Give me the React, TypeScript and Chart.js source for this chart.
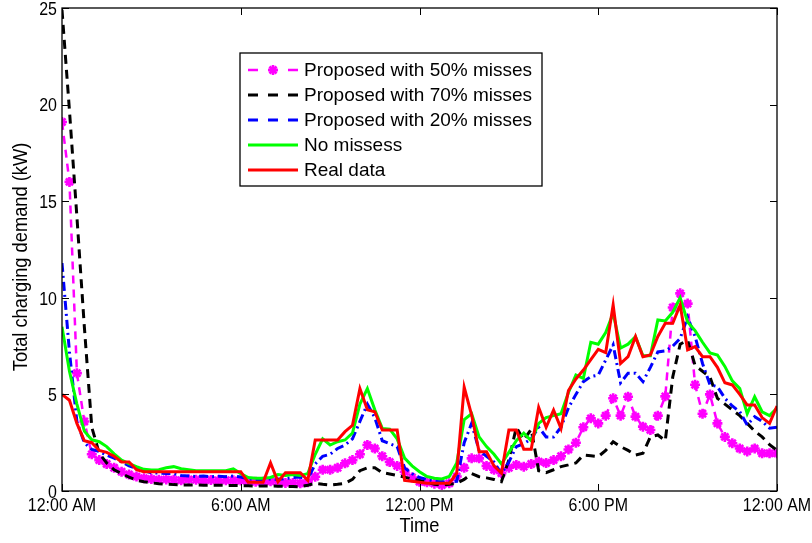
import React, { useEffect, useRef } from "react";
import { Chart, registerables } from "chart.js";

Chart.register(...registerables);

// Samples every 15 minutes, from 12:00 AM to 12:00 AM next day (97 points)
const STEP_HOURS = 0.25;

const xTickLabels = ["12:00 AM", "6:00 AM", "12:00 PM", "6:00 PM", "12:00 AM"];
const yTickValues = [0, 5, 10, 15, 20, 25];
const xTitle = "Time";
const yTitle = "Total charging demand (kW)";

const seriesLabels = [
  "Proposed with 50% misses",
  "Proposed with 70% misses",
  "Proposed with 20% misses",
  "No missess",
  "Real data",
];

const proposed50 = [
  19.1, 16.0, 6.1, 3.6, 1.9, 1.6, 1.4, 1.2, 1.0, 0.85, 0.75, 0.66, 0.62,
  0.58, 0.6, 0.58, 0.56, 0.6, 0.58, 0.55, 0.57, 0.55, 0.56, 0.55, 0.54,
  0.5, 0.48, 0.48, 0.5, 0.45, 0.42, 0.42, 0.4, 0.45,
  0.74, 1.1, 1.1, 1.2, 1.43, 1.6, 1.9, 2.38, 2.2, 1.8, 1.5, 1.3, 1.0, 0.7,
  0.48, 0.45, 0.38, 0.31, 0.4, 0.75, 1.2, 1.69, 1.69, 1.3, 1.1, 0.92,
  1.2, 1.35, 1.26, 1.4, 1.52, 1.45, 1.6, 1.8, 2.15, 2.5, 3.3, 3.76, 3.5,
  3.9, 4.8, 3.9, 4.88, 3.85, 3.33, 3.16, 3.9, 4.9, 9.5, 10.23, 9.7, 5.5,
  4.0, 5.0, 3.5, 2.8, 2.47, 2.2, 2.05, 2.2, 1.95, 1.95, 1.95,
];

const proposed70 = [
  24.9, 19.7, 14.2, 8.5, 3.3, 1.95, 1.45, 1.1, 0.9, 0.72, 0.55, 0.48, 0.42,
  0.38, 0.35, 0.33, 0.32, 0.31, 0.31, 0.3, 0.3, 0.3, 0.29, 0.29, 0.28,
  0.27, 0.26, 0.26, 0.26, 0.25, 0.24, 0.23, 0.22, 0.3,
  0.4, 0.35, 0.31, 0.35, 0.4, 0.6, 1.05, 1.2, 1.2, 0.95, 0.88, 0.8, 0.72,
  0.62, 0.55, 0.45, 0.35, 0.31, 0.35, 0.4, 0.6, 0.9, 0.74, 0.68, 0.6, 0.48,
  1.6, 3.3, 2.64, 3.2, 1.05, 0.95, 1.1, 1.26, 1.35, 1.45, 1.86, 1.82, 1.78,
  2.1, 2.55, 2.3, 2.1, 1.86, 1.95, 2.81, 2.9, 2.6, 5.9, 7.6, 7.8, 6.5,
  6.2, 5.9, 4.8, 4.5, 4.2, 3.9, 3.5, 3.1, 2.8, 2.4, 2.1,
];

const proposed20 = [
  11.8, 7.2, 3.6, 2.5, 2.15, 2.05, 1.85, 1.7, 1.5, 1.3, 1.17, 1.05, 0.95,
  0.92, 0.9, 0.9, 0.8, 0.78, 0.75, 0.78, 0.74, 0.76, 0.74, 0.78, 0.72,
  0.62, 0.6, 0.6, 0.62, 0.6, 0.65, 0.7, 0.72, 0.6,
  1.4, 1.8, 1.9, 2.2, 2.38, 2.7, 3.6, 4.5, 3.8, 2.6, 2.45, 2.3, 1.2, 0.9,
  0.7, 0.6, 0.5, 0.48, 0.48, 0.5, 2.5, 3.5, 2.1, 1.8, 1.5, 0.9,
  1.5, 2.3, 2.45, 2.7, 3.3, 2.8, 2.8, 3.3, 4.3, 5.0, 5.66, 5.92, 6.0,
  6.78, 7.56, 5.6, 6.1, 6.1, 5.66, 6.4, 7.2, 7.25, 7.5, 7.9, 9.0, 8.0,
  6.6, 5.5, 5.4, 4.8, 4.4, 4.1, 3.42, 3.85, 3.6, 3.25, 3.3,
];

const noMisses = [
  8.5, 6.2, 4.5, 3.1, 2.65, 2.55, 2.3, 1.92, 1.6, 1.42, 1.26, 1.12, 1.09,
  1.1, 1.2, 1.26, 1.15, 1.1, 1.05, 1.05, 1.05, 1.05, 1.05, 1.15, 0.9,
  0.7, 0.66, 0.66, 0.7, 0.85, 0.8, 0.85, 0.8, 0.9,
  1.9, 2.7, 2.38, 2.55, 2.64, 3.0, 4.5, 5.3, 4.2, 3.24, 3.2, 2.7, 1.7, 1.3,
  1.0, 0.75, 0.66, 0.62, 0.75, 1.45, 3.7, 4.0, 2.8, 2.3, 1.9, 1.4,
  2.0, 2.6, 3.0, 2.6, 3.5, 3.8, 3.9, 4.0, 5.1, 6.0, 5.83, 7.7, 7.6,
  8.2, 9.2, 7.4, 7.6, 7.99, 7.0, 7.0, 8.85, 8.8, 9.25, 10.0, 8.75, 8.3,
  7.7, 7.15, 7.04, 6.45, 5.7, 5.3, 4.0, 4.88, 4.1, 3.9, 4.3,
];

const realData = [
  5.0, 4.7, 3.5, 2.6, 2.5, 2.1, 2.0, 1.8, 1.5, 1.5, 1.1, 1.0, 1.0,
  1.0, 1.0, 1.0, 1.0, 1.0, 1.0, 1.0, 1.0, 1.0, 1.0, 1.0, 1.0,
  0.45, 0.45, 0.45, 1.45, 0.48, 0.95, 0.95, 0.95, 0.55,
  2.64, 2.64, 2.64, 2.64, 3.07, 3.4, 5.3, 4.2, 4.1, 3.16, 3.16, 3.16, 0.55, 0.5,
  0.45, 0.4, 0.4, 0.4, 0.4, 0.92, 5.37, 3.93, 2.03, 2.03, 1.3, 0.92,
  3.16, 3.16, 2.16, 2.16, 4.33, 3.3, 4.19, 3.24, 5.2, 5.8, 6.26, 6.8, 7.33,
  7.16, 9.63, 6.6, 6.95, 7.99, 6.95, 7.04, 8.0, 8.68, 8.68, 9.63, 7.3, 7.47,
  6.95, 6.95, 6.4, 5.6, 5.49, 5.0, 4.45, 4.45, 3.8, 3.5, 4.4,
];

const SANS = "'Liberation Sans', Arial, Helvetica, sans-serif";

const toPoints = (vals: number[]) => vals.map((v, i) => ({ x: i * STEP_HOURS, y: v }));

function condensedText(
  ctx: CanvasRenderingContext2D,
  text: string,
  x: number,
  y: number,
  sx: number,
  align: CanvasTextAlign,
  rotate = 0
) {
  ctx.save();
  ctx.translate(x, y);
  if (rotate) ctx.rotate(rotate);
  ctx.scale(sx, 1);
  ctx.textAlign = align;
  ctx.textBaseline = "alphabetic";
  ctx.fillText(text, 0, 0);
  ctx.restore();
}

const frameAndLegend = {
  id: "frameAndLegend",
  afterDraw(chart: any) {
    const { ctx, chartArea: a, scales } = chart;
    ctx.save();
    ctx.strokeStyle = "#000";
    ctx.lineWidth = 1.3;
    ctx.setLineDash([]);
    ctx.strokeRect(a.left, a.top, a.right - a.left, a.bottom - a.top);
    const tl = 7;
    ctx.lineWidth = 1;
    ctx.beginPath();
    for (const t of scales.x.ticks) {
      const px = Math.round(scales.x.getPixelForValue(t.value)) + 0.5;
      ctx.moveTo(px, a.bottom);
      ctx.lineTo(px, a.bottom - tl);
      ctx.moveTo(px, a.top);
      ctx.lineTo(px, a.top + tl);
    }
    for (const t of scales.y.ticks) {
      const py = Math.round(scales.y.getPixelForValue(t.value)) + 0.5;
      ctx.moveTo(a.left, py);
      ctx.lineTo(a.left + tl, py);
      ctx.moveTo(a.right, py);
      ctx.lineTo(a.right - tl, py);
    }
    ctx.stroke();

    // tick labels and axis titles (MATLAB-like condensed Helvetica look)
    ctx.fillStyle = "#000";
    ctx.font = `19px ${SANS}`;
    scales.x.ticks.forEach((t: any, i: number) => {
      const px = scales.x.getPixelForValue(t.value);
      condensedText(ctx, xTickLabels[i], px, a.bottom + 20, 0.84, "center");
    });
    scales.y.ticks.forEach((t: any) => {
      const py = scales.y.getPixelForValue(t.value);
      condensedText(ctx, String(t.value), a.left - 5, py + 6.8, 0.84, "right");
    });
    ctx.font = `21px ${SANS}`;
    condensedText(ctx, xTitle, (a.left + a.right) / 2, 532, 0.87, "center");
    condensedText(ctx, yTitle, 27, 257, 0.87, "center", -Math.PI / 2);

    // legend box
    const bx = 240, by = 53, bw = 302, bh = 133;
    ctx.fillStyle = "#fff";
    ctx.fillRect(bx, by, bw, bh);
    ctx.lineWidth = 1.3;
    ctx.strokeRect(bx, by, bw, bh);
    const rowH = 25;
    const firstRow = 70;
    ctx.font = `19px ${SANS}`;
    ctx.textBaseline = "middle";
    ctx.textAlign = "left";
    chart.data.datasets.forEach((ds: any, i: number) => {
      const y = firstRow + i * rowH;
      ctx.strokeStyle = ds.borderColor;
      ctx.lineWidth = ds.borderWidth;
      ctx.setLineDash(ds.legendDash || []);
      ctx.beginPath();
      ctx.moveTo(248, y);
      ctx.lineTo(298, y);
      ctx.stroke();
      ctx.setLineDash([]);
      if (ds.pointRadius > 0) {
        const r = ds.pointRadius;
        const cx = 273;
        ctx.lineWidth = ds.pointBorderWidth;
        ctx.beginPath();
        ctx.moveTo(cx - r, y);
        ctx.lineTo(cx + r, y);
        ctx.moveTo(cx, y - r);
        ctx.lineTo(cx, y + r);
        const d = r * Math.SQRT1_2;
        ctx.moveTo(cx - d, y - d);
        ctx.lineTo(cx + d, y + d);
        ctx.moveTo(cx - d, y + d);
        ctx.lineTo(cx + d, y - d);
        ctx.stroke();
      }
      ctx.fillStyle = "#000";
      ctx.fillText(ds.label, 304, y + 1);
    });
    ctx.restore();
  },
};

export default function App() {
  const ref = useRef<HTMLCanvasElement | null>(null);

  useEffect(() => {
    if (!ref.current) return;
    const chart = new Chart(ref.current, {
      type: "line",
      data: {
        datasets: [
          {
            label: seriesLabels[0],
            data: toPoints(proposed50),
            borderColor: "#FF00FF",
            backgroundColor: "#FF00FF",
            borderWidth: 2.5,
            borderDash: [8, 6],
            legendDash: [10, 10],
            pointStyle: "star",
            pointRadius: 5,
            pointBorderWidth: 2.6,
            pointBorderColor: "#FF00FF",
            pointBackgroundColor: "#FF00FF",
            order: 4,
          } as any,
          {
            label: seriesLabels[1],
            data: toPoints(proposed70),
            borderColor: "#000000",
            backgroundColor: "#000000",
            borderWidth: 3,
            borderDash: [9, 6],
            legendDash: [10, 10],
            pointRadius: 0,
            order: 3,
          } as any,
          {
            label: seriesLabels[2],
            data: toPoints(proposed20),
            borderColor: "#0000FF",
            backgroundColor: "#0000FF",
            borderWidth: 3,
            borderDash: [9, 4, 2, 4],
            legendDash: [10, 10],
            pointRadius: 0,
            order: 2,
          } as any,
          {
            label: seriesLabels[3],
            data: toPoints(noMisses),
            borderColor: "#00FF00",
            backgroundColor: "#00FF00",
            borderWidth: 3,
            pointRadius: 0,
            order: 1,
          } as any,
          {
            label: seriesLabels[4],
            data: toPoints(realData),
            borderColor: "#FF0000",
            backgroundColor: "#FF0000",
            borderWidth: 3,
            pointRadius: 0,
            order: 0,
          } as any,
        ],
      },
      options: {
        animation: false,
        responsive: false,
        devicePixelRatio: 1,
        events: [],
        layout: { padding: { top: 8, right: 35, left: 0, bottom: 0 } },
        elements: { line: { tension: 0 } },
        plugins: {
          legend: { display: false },
          tooltip: { enabled: false },
        },
        scales: {
          x: {
            type: "linear",
            min: 0,
            max: 24,
            afterFit: (s: any) => {
              s.height = 52;
            },
            afterBuildTicks: (s: any) => {
              s.ticks = xTickLabels.map((_, i) => ({ value: i * 6 }));
            },
            ticks: { display: false },
            grid: { display: false, drawTicks: false },
            border: { display: false },
            title: { display: false },
          },
          y: {
            min: 0,
            max: 25,
            afterFit: (s: any) => {
              s.width = 62;
            },
            afterBuildTicks: (s: any) => {
              s.ticks = yTickValues.map((v) => ({ value: v }));
            },
            ticks: { display: false },
            grid: { display: false, drawTicks: false },
            border: { display: false },
            title: { display: false },
          },
        },
      },
      plugins: [frameAndLegend],
    });
    return () => chart.destroy();
  }, []);

  return (
    <div style={{ position: "fixed", left: 0, top: 0, width: 812, height: 543, background: "#fff" }}>
      <canvas ref={ref} width={812} height={543} style={{ display: "block" }} />
    </div>
  );
}
